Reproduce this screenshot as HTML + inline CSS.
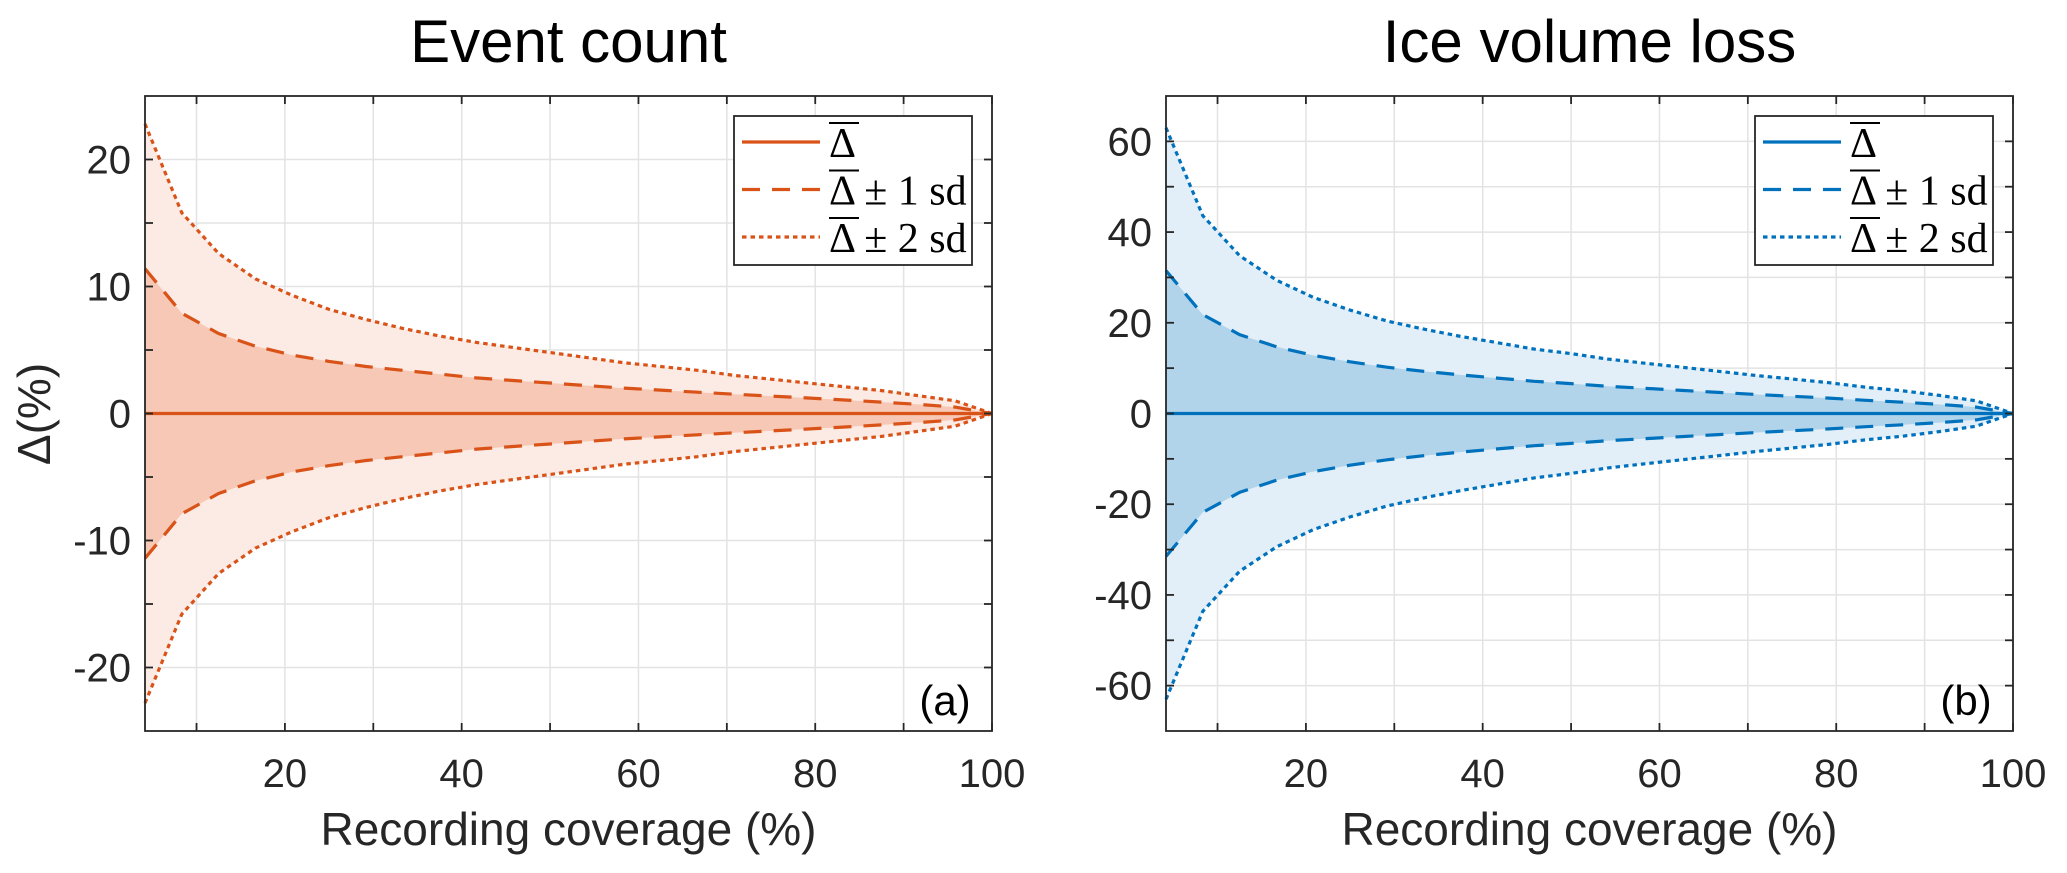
<!DOCTYPE html>
<html><head><meta charset="utf-8">
<style>
html,body{margin:0;padding:0;background:#fff;}
svg{display:block;font-family:"Liberation Sans",sans-serif;}
</style></head>
<body>
<svg id="fig" width="2067" height="873" viewBox="0 0 2067 873" xmlns="http://www.w3.org/2000/svg"></svg>
<script>
// ---- data ----
const coverage = [4.17,8.33,12.5,16.67,20.83,25,29.17,33.33,37.5,41.67,45.83,50,54.17,58.33,62.5,66.67,70.83,75,79.17,83.33,87.5,91.67,95.83,100];
const eventMean = [0,0,0,0,0,0,0,0,0,0,0,0,0,0,0,0,0,0,0,0,0,0,0,0];
const eventSd1 = [11.4,7.9,6.3,5.3,4.6,4.1,3.7,3.4,3.1,2.8,2.6,2.4,2.2,2.0,1.84,1.68,1.52,1.37,1.22,1.06,0.9,0.72,0.5,0];
const eventSd2 = [22.8,15.8,12.6,10.6,9.3,8.2,7.4,6.7,6.1,5.6,5.2,4.8,4.4,4.0,3.7,3.4,3.0,2.7,2.4,2.1,1.8,1.4,1.0,0];
const iceMean = [0,0,0,0,0,0,0,0,0,0,0,0,0,0,0,0,0,0,0,0,0,0,0,0];
const iceSd1 = [31.5,21.8,17.4,14.7,12.8,11.4,10.2,9.3,8.5,7.8,7.1,6.6,6.0,5.55,5.1,4.65,4.2,3.8,3.4,2.9,2.5,2.0,1.4,0];
const iceSd2 = [63,43.6,34.8,29.4,25.6,22.8,20.4,18.6,17.0,15.6,14.2,13.2,12.0,11.1,10.2,9.3,8.4,7.6,6.8,5.8,5.0,4.0,2.8,0];
const xTickLabels = [20,40,60,80,100];
const eventYTickLabels = [-20,-10,0,10,20];
const iceYTickLabels = [-60,-40,-20,0,20,40,60];

const NS = "http://www.w3.org/2000/svg";
const svg = document.getElementById('fig');
function mk(tag, attrs, parent){
  const e = document.createElementNS(NS, tag);
  for (const k in attrs) e.setAttribute(k, attrs[k]);
  (parent||svg).appendChild(e);
  return e;
}

function panel(cfg){
  const g = mk('g', {});
  
  
  const L=cfg.x0, R=cfg.x1, T=96, B=731;
  const xmin=4.17, xmax=100;
  const sx = v => L + (v-xmin)/(xmax-xmin)*(R-L);
  const sy = v => T + (cfg.ymax - v)/(2*cfg.ymax)*(B-T);
  for (let v=10; v<=100; v+=10){
    const gl = mk('line',{x1:sx(v),x2:sx(v),y1:T,y2:B,stroke:'#e3e3e3','stroke-width':1.5},g);
    
    
  }
  for (let v=-cfg.ymax+cfg.ystep; v<cfg.ymax; v+=cfg.ystep){
    const gl = mk('line',{x1:L,x2:R,y1:sy(v),y2:sy(v),stroke:'#e3e3e3','stroke-width':1.5},g);
    
    
  }
  const band = (hi, lo) => {
    let d = 'M';
    coverage.forEach((c,i)=>{ d += (i?' L':'') + sx(c).toFixed(1)+','+sy(hi[i]).toFixed(1); });
    for (let i=coverage.length-1;i>=0;i--) d += ' L'+sx(coverage[i]).toFixed(1)+','+sy(lo[i]).toFixed(1);
    return d+' Z';
  };
  const neg = a => a.map(v=>-v);
  const outer = mk('path',{d:band(cfg.sd2,neg(cfg.sd2)),fill:cfg.light,stroke:'none'},g);
  
  
  const inner = mk('path',{d:band(cfg.sd1,neg(cfg.sd1)),fill:cfg.mid,stroke:'none'},g);
  
  
  const line = (arr, dash, nm) => {
    const pts = coverage.map((c,i)=>sx(c).toFixed(1)+','+sy(arr[i]).toFixed(1)).join(' ');
    const p = mk('polyline',{points:pts,fill:'none',stroke:cfg.color,'stroke-width':3.2,'stroke-dasharray':dash},g);
    
    
  };
  line(cfg.sd2,'4.5,4','sd2-upper-line');
  line(neg(cfg.sd2),'4.5,4','sd2-lower-line');
  line(cfg.sd1,'18,12','sd1-upper-line');
  line(neg(cfg.sd1),'18,12','sd1-lower-line');
  line(cfg.mean,'none','mean-line');
  const box = mk('rect',{x:L,y:T,width:R-L,height:B-T,fill:'none',stroke:'#262626','stroke-width':1.8},g);
  
  
  for (let v=10; v<=100; v+=10){
    mk('line',{x1:sx(v),x2:sx(v),y1:B,y2:B-8,stroke:'#262626','stroke-width':1.8},g);
    mk('line',{x1:sx(v),x2:sx(v),y1:T,y2:T+8,stroke:'#262626','stroke-width':1.8},g);
  }
  for (let v=-cfg.ymax+cfg.ystep; v<cfg.ymax; v+=cfg.ystep){
    mk('line',{x1:L,x2:L+8,y1:sy(v),y2:sy(v),stroke:'#262626','stroke-width':1.8},g);
    mk('line',{x1:R,x2:R-8,y1:sy(v),y2:sy(v),stroke:'#262626','stroke-width':1.8},g);
  }
  xTickLabels.forEach(v=>{
    const t = mk('text',{x:sx(v),y:787,'font-size':40,'text-anchor':'middle',fill:'#262626'},g);
    t.textContent = v;
    
    
  });
  cfg.yLabels.forEach(v=>{
    const t = mk('text',{x:L-14,y:sy(v)+14,'font-size':40,'text-anchor':'end',fill:'#262626'},g);
    t.textContent = v;
    
    
  });
  const xl = mk('text',{x:(L+R)/2,y:845,'font-size':46,'text-anchor':'middle',fill:'#262626'},g);
  xl.textContent = 'Recording coverage (%)';
  
  
  const tt = mk('text',{x:(L+R)/2,y:62,'font-size':60,'text-anchor':'middle',fill:'#000'},g);
  tt.textContent = cfg.title;
  
  
  const pl = mk('text',{x:R-47,y:715,'font-size':42,'text-anchor':'middle',fill:'#000'},g);
  pl.textContent = cfg.tag;
  
  
  const lg = mk('g',{},g);
  
  
  const lx = R-258, ly = 116;
  mk('rect',{x:lx,y:ly,width:238,height:149,fill:'#fff',stroke:'#262626','stroke-width':1.8},lg);
  const rows = [['none',''],['18,12','\u00b1 1 sd'],['4.5,4','\u00b1 2 sd']];
  rows.forEach((r,i)=>{
    const yy = ly+26+i*47.5;
    const ent = mk('g',{},lg);
    
    
    mk('line',{x1:lx+8,x2:lx+86,y1:yy,y2:yy,stroke:cfg.color,'stroke-width':3.2,'stroke-dasharray':r[0]},ent);
    const t = mk('text',{x:lx+95,y:yy+15,'font-size':42,'font-family':'"Liberation Serif",serif',fill:'#000'},ent);
    t.textContent = '\u0394' + (r[1] ? ' ' + r[1] : '');
    mk('line',{x1:lx+95,x2:lx+125,y1:yy-19,y2:yy-19,stroke:'#000','stroke-width':2},ent);
  });
}

panel({name:'event-count-panel',x0:145,x1:992,ymax:25,ystep:5,yLabels:eventYTickLabels,
  sd1:eventSd1,sd2:eventSd2,mean:eventMean,color:'#D95319',light:'#FCEBE4',mid:'#F6C8B5',title:'Event count',tag:'(a)'});
panel({name:'ice-volume-loss-panel',x0:1166,x1:2013,ymax:70,ystep:10,yLabels:iceYTickLabels,
  sd1:iceSd1,sd2:iceSd2,mean:iceMean,color:'#0072BD',light:'#E3EFF8',mid:'#B2D4EA',title:'Ice volume loss',tag:'(b)'});

const yl = mk('text',{x:0,y:0,'font-size':46,'text-anchor':'middle',fill:'#262626',transform:'translate(50,414) rotate(-90)'});
yl.textContent = '\u0394(%)';


</script>
</body></html>
